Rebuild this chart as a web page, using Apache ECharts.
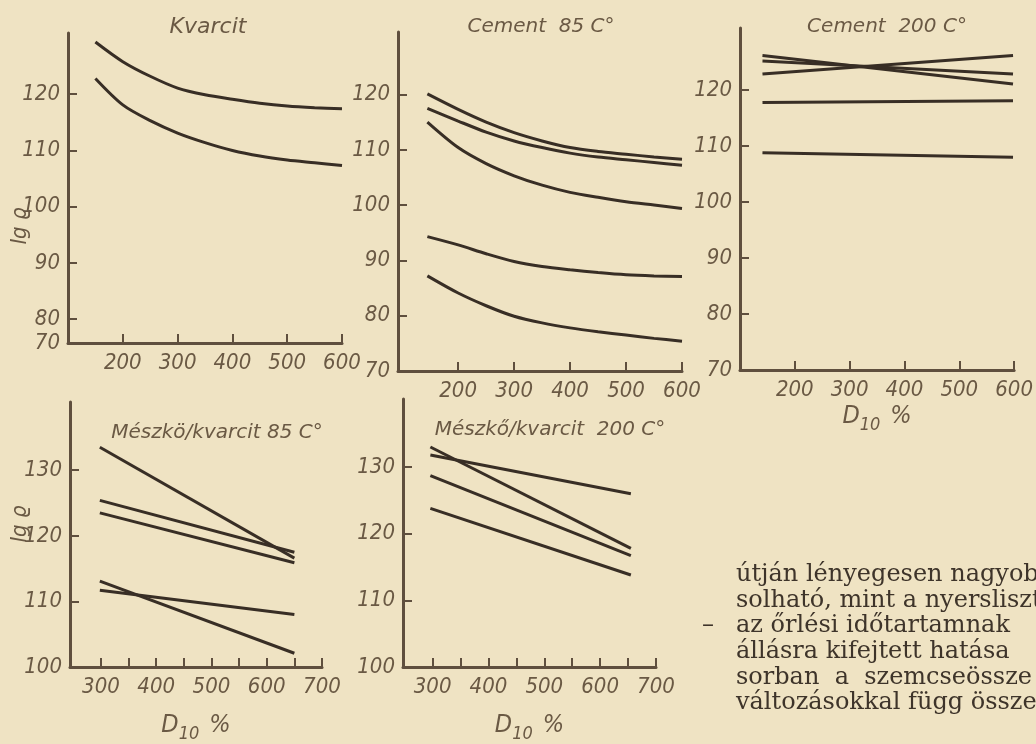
<!DOCTYPE html>
<html>
<head>
<meta charset="utf-8">
<script src="https://cdn.jsdelivr.net/npm/echarts@6/dist/echarts.min.js"></script>
<style>
  html, body { margin: 0; padding: 0; background: #efe3c3; }
  #chart { width: 1036px; height: 744px; }
</style>
</head>
<body>
<div id="chart"></div>
<script>
// ---------- data ----------
// Kvarcit
const kvarcitX = [150, 200, 250, 300, 350, 400, 450, 500, 550, 600];
const kvarcitUpper = [129.3, 125.8, 123.2, 121.1, 119.9, 119.1, 118.4, 117.9, 117.6, 117.4];
const kvarcitLower = [122.8, 118.1, 115.3, 113.1, 111.4, 110.0, 109.0, 108.3, 107.8, 107.3];

// Cement 85 C°
const cem85X = [145, 200, 250, 300, 350, 400, 450, 500, 550, 600];
const cem85A = [120.1, 117.3, 115.0, 113.1, 111.6, 110.4, 109.7, 109.2, 108.7, 108.3];
const cem85B = [117.5, 115.2, 113.2, 111.6, 110.4, 109.4, 108.7, 108.2, 107.7, 107.2];
const cem85C = [115.0, 110.4, 107.5, 105.3, 103.6, 102.3, 101.4, 100.6, 100.0, 99.4];
const cem85D = [94.3, 92.8, 91.2, 89.8, 88.9, 88.3, 87.8, 87.4, 87.2, 87.1];
const cem85E = [87.2, 84.1, 81.8, 79.9, 78.7, 77.8, 77.1, 76.5, 75.9, 75.4];

// Cement 200 C°
const cem200X = [141, 598];
const cem200A = [122.9, 126.2];
const cem200B = [126.2, 121.1];
const cem200C = [125.2, 122.9];
const cem200D = [117.8, 118.1];
const cem200E = [108.8, 108.0];

// Mészkö/kvarcit 85 C°
const msz85X = [298, 650];
const msz85A = [133.5, 116.6];
const msz85B = [125.4, 117.5];
const msz85C = [123.5, 115.9];
const msz85D = [113.1, 102.1];
const msz85E = [111.7, 108.0];

// Mészkő/kvarcit 200 C°
const msz200X = [296, 655];
const msz200A = [133.0, 117.8];
const msz200B = [131.8, 126.0];
const msz200C = [128.7, 116.7];
const msz200D = [123.8, 113.8];

// tick labels
const xTicksTop = [200, 300, 400, 500, 600];
const xTicksBottom = [300, 350, 400, 450, 500, 550, 600, 650, 700];
const xLabelsBottom = [300, 400, 500, 600, 700];
const yTicksTop = [80, 90, 100, 110, 120];
const yTicksBottom = [110, 120, 130];
const yLabelsBottom = [100, 110, 120, 130];

const bodyLines = [
  'útján lényegesen nagyobb',
  'solható, mint a nyersliszt',
  'az őrlési időtartamnak',
  'állásra kifejtett hatása',
  'sorban  a  szemcseössze',
  'változásokkal függ össze'
];

// ---------- styles ----------
const INK = '#382e25';
const TXT = '#6a5944';
const AXIS = '#5f4f3e';
const BODY = '#3e342a';
const tickFont = "'Liberation Sans Narrow', 'DejaVu Sans Condensed', 'Liberation Sans', sans-serif";
const titleFont = "'DejaVu Sans', sans-serif";
const bodyFont = "24px 'DejaVu Serif', serif";

function pairs(xs, ys) { return xs.map((x, i) => [x, ys[i]]); }

const grids = [
  { left: 68, top: 33, width: 274, height: 310 },
  { left: 398, top: 32, width: 284, height: 339 },
  { left: 740, top: 28, width: 283, height: 342 },
  { left: 70, top: 402, width: 252, height: 277 },
  { left: 403, top: 399, width: 253, height: 283 }
];

const axisLineStyle = { show: true, lineStyle: { color: AXIS, width: 3 } };
const tickStyle = { show: true, inside: true, length: 9, lineStyle: { color: AXIS, width: 2 } };
const labelStyle = { color: TXT, fontFamily: tickFont, fontStyle: 'italic', fontSize: 22 };

function xAxisDef(gi, min, max, ticks, labels, nameGap) {
  const a = {
    type: 'value', gridIndex: gi, min: min, max: max,
    splitLine: { show: false },
    axisLine: axisLineStyle,
    axisTick: Object.assign({}, tickStyle, { customValues: ticks }),
    axisLabel: Object.assign({}, labelStyle, { customValues: labels, margin: 9 })
  };
  if (nameGap) {
    a.name = '{d|D}{s|10}   {d|%}';
    a.nameLocation = 'middle';
    a.nameGap = nameGap;
    a.nameTextStyle = {
      rich: {
        d: { fontFamily: tickFont, fontStyle: 'italic', fontSize: 25, color: TXT, lineHeight: 30, verticalAlign: 'top' },
        s: { fontFamily: tickFont, fontStyle: 'italic', fontSize: 18, color: TXT, lineHeight: 30, verticalAlign: 'bottom', padding: [12, 0, 0, 0] }
      }
    };
  }
  return a;
}

function yAxisDef(gi, min, max, ticks, labels, minLabel) {
  return {
    type: 'value', gridIndex: gi, min: min, max: max,
    splitLine: { show: false },
    axisLine: axisLineStyle,
    axisTick: Object.assign({}, tickStyle, { customValues: ticks }),
    axisLabel: Object.assign({}, labelStyle, {
      customValues: labels, margin: 8,
      formatter: function (v) { return v === min ? minLabel : String(v); }
    })
  };
}

function line(xi, name, xs, ys, smooth) {
  return {
    type: 'line', name: name, xAxisIndex: xi, yAxisIndex: xi,
    data: pairs(xs, ys), smooth: smooth ? 0.3 : false,
    showSymbol: false, symbol: 'none', silent: true,
    lineStyle: { color: INK, width: 3 }
  };
}

const p1min = 75.73, p2min = 70, p3min = 70;

function txt(x, y, text, font, fill, align, rot) {
  const el = { type: 'text', x: x, y: y, style: { text: text, font: font, fill: fill, align: align || 'left', verticalAlign: 'middle' } };
  if (rot) el.rotation = rot;
  return el;
}

const option = {
  backgroundColor: '#efe3c3',
  animation: false,
  grid: grids,
  xAxis: [
    xAxisDef(0, 100, 600, xTicksTop, xTicksTop, 0),
    xAxisDef(1, 92.5, 600, xTicksTop, xTicksTop, 0),
    xAxisDef(2, 100, 600, xTicksTop, xTicksTop, 34),
    xAxisDef(3, 244, 700, xTicksBottom, xLabelsBottom, 46),
    xAxisDef(4, 247, 700, xTicksBottom, xLabelsBottom, 46)
  ],
  yAxis: [
    yAxisDef(0, p1min, 130.9, yTicksTop, [p1min].concat(yTicksTop), '70'),
    yAxisDef(1, p2min, 131.3, yTicksTop, [p2min].concat(yTicksTop), '70'),
    yAxisDef(2, p3min, 131.1, yTicksTop, [p3min].concat(yTicksTop), '70'),
    yAxisDef(3, 100, 140.4, yTicksBottom, yLabelsBottom, '100'),
    yAxisDef(4, 100, 140.2, yTicksBottom, yLabelsBottom, '100')
  ],
  series: [
    line(0, 'Kvarcit 1', kvarcitX, kvarcitUpper, true),
    line(0, 'Kvarcit 2', kvarcitX, kvarcitLower, true),
    line(1, 'Cement 85 A', cem85X, cem85A, true),
    line(1, 'Cement 85 B', cem85X, cem85B, true),
    line(1, 'Cement 85 C', cem85X, cem85C, true),
    line(1, 'Cement 85 D', cem85X, cem85D, true),
    line(1, 'Cement 85 E', cem85X, cem85E, true),
    line(2, 'Cement 200 A', cem200X, cem200A, false),
    line(2, 'Cement 200 B', cem200X, cem200B, false),
    line(2, 'Cement 200 C', cem200X, cem200C, false),
    line(2, 'Cement 200 D', cem200X, cem200D, false),
    line(2, 'Cement 200 E', cem200X, cem200E, false),
    line(3, 'Mészkö 85 A', msz85X, msz85A, false),
    line(3, 'Mészkö 85 B', msz85X, msz85B, false),
    line(3, 'Mészkö 85 C', msz85X, msz85C, false),
    line(3, 'Mészkö 85 D', msz85X, msz85D, false),
    line(3, 'Mészkö 85 E', msz85X, msz85E, false),
    line(4, 'Mészkő 200 A', msz200X, msz200A, false),
    line(4, 'Mészkő 200 B', msz200X, msz200B, false),
    line(4, 'Mészkő 200 C', msz200X, msz200C, false),
    line(4, 'Mészkő 200 D', msz200X, msz200D, false)
  ],
  graphic: [
    txt(208, 27, 'Kvarcit', "italic 22px " + titleFont, TXT, 'center'),
    txt(541, 27, 'Cement  85 C°', "italic 20px " + titleFont, TXT, 'center'),
    txt(887, 27, 'Cement  200 C°', "italic 20px " + titleFont, TXT, 'center'),
    txt(217, 433, 'Mészkö/kvarcit 85 C°', "italic 20px " + titleFont, TXT, 'center'),
    txt(550, 430, 'Mészkő/kvarcit  200 C°', "italic 20px " + titleFont, TXT, 'center'),
    txt(20, 226, 'lg ϱ', "italic 22px " + tickFont, TXT, 'center', Math.PI / 2),
    txt(20, 524, 'lg ϱ', "italic 22px " + tickFont, TXT, 'center', Math.PI / 2),
    txt(736, 575, bodyLines[0], bodyFont, BODY),
    txt(736, 601, bodyLines[1], bodyFont, BODY),
    txt(702, 626, '–', bodyFont, BODY),
    txt(736, 626, bodyLines[2], bodyFont, BODY),
    txt(736, 652, bodyLines[3], bodyFont, BODY),
    txt(736, 678, bodyLines[4], bodyFont, BODY),
    txt(736, 703, bodyLines[5], bodyFont, BODY)
  ]
};

const chart = echarts.init(document.getElementById('chart'), null, { renderer: 'canvas' });
chart.setOption(option);
</script>
</body>
</html>
